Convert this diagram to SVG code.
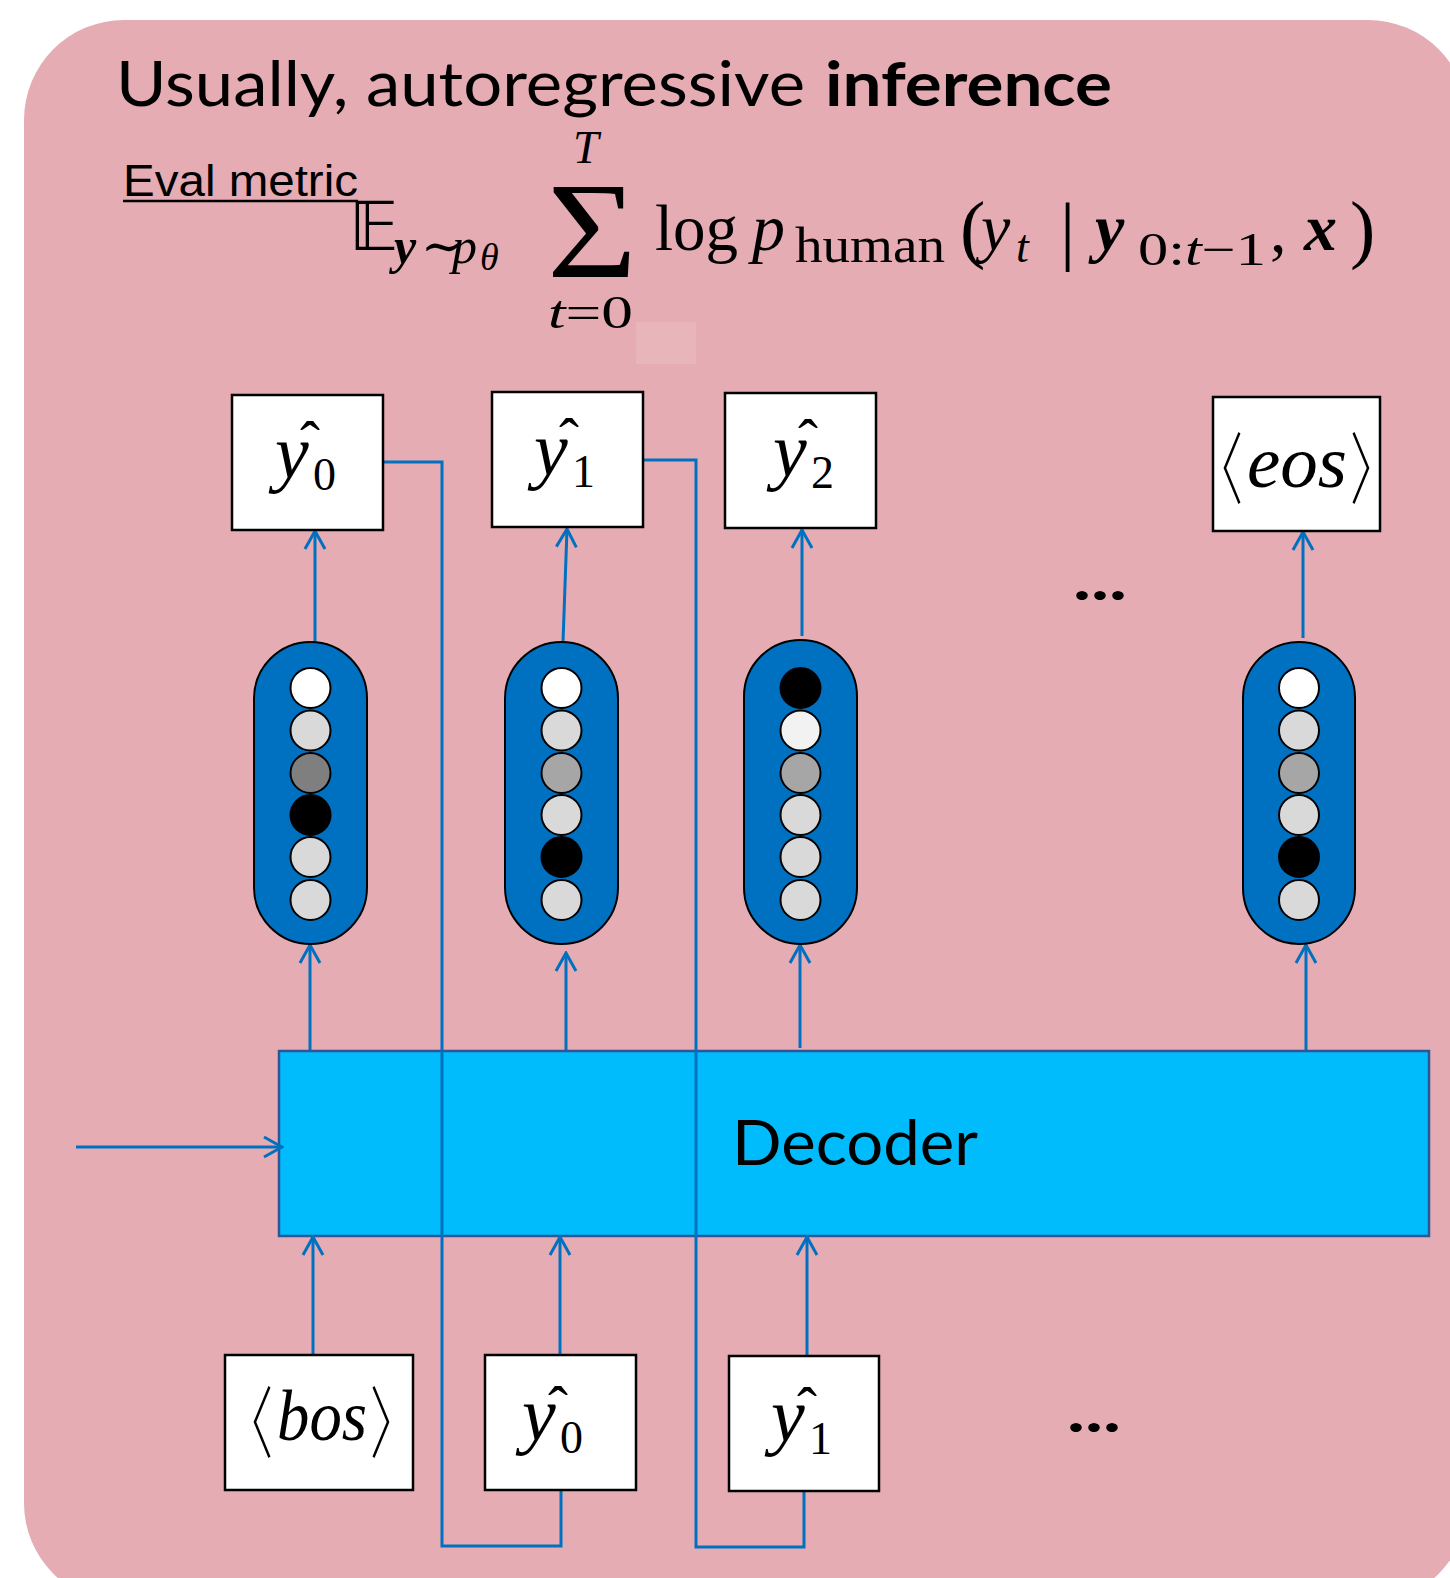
<svg xmlns="http://www.w3.org/2000/svg" width="1450" height="1578" viewBox="0 0 1450 1578">
<defs>
<marker id="arr" viewBox="0 0 22 24" refX="20" refY="12" markerWidth="22" markerHeight="24" markerUnits="userSpaceOnUse" orient="auto">
<path d="M2,2 L20,12 L2,22" fill="none" stroke="#0070C0" stroke-width="3"/>
</marker>
</defs>
<style>
.bg{fill:#E5ACB3}
.box{fill:#FFFFFF;stroke:#000000;stroke-width:2.5}
.cap{fill:#0070C0;stroke:#000000;stroke-width:2}
.dot{stroke:#000000;stroke-width:2}
.w{fill:#FFFFFF}.l{fill:#D9D9D9}.m{fill:#A6A6A6}.d{fill:#7F7F7F}.k{fill:#000000}.f{fill:#F2F2F2}
.conn{fill:none;stroke:#0070C0;stroke-width:3}
.ar{marker-end:url(#arr)}
.dec{fill:#00BCFC;stroke:#2F5597;stroke-width:2.5}
.sans{font-family:Lato,"Open Sans","Liberation Sans",sans-serif;fill:#000}
.math{font-family:"Liberation Serif","DejaVu Serif",serif;fill:#000}
.it{font-style:italic}
.bi{font-style:italic;font-weight:bold}
.br{font-family:"Noto Sans CJK JP","Noto Sans CJK SC","DejaVu Sans",sans-serif;font-weight:300;fill:#000}
</style>
<rect class="bg" x="24" y="20" width="1444" height="1583" rx="100" ry="100"/>

<g id="title">
<text class="sans" x="116" y="106" font-size="62" textLength="689" lengthAdjust="spacingAndGlyphs">Usually, autoregressive</text>
<text class="sans" x="825" y="106" font-size="62" font-weight="bold" textLength="287" lengthAdjust="spacingAndGlyphs">inference</text>
</g>

<g id="eval-metric">
<text x="123" y="196" font-family="'Liberation Sans',Arial,sans-serif" font-size="44" textLength="235" lengthAdjust="spacingAndGlyphs">Eval metric</text>
<line x1="123" y1="201" x2="358" y2="201" stroke="#000" stroke-width="2.5"/>
</g>

<g id="formula" class="math">
<text x="349" y="250" font-size="68" font-family="'DejaVu Sans','DejaVu Serif',serif">𝔼</text>
<text x="394" y="263" font-size="50" class="bi">y</text>
<text x="421" y="263" font-size="50">∼</text>
<text x="452" y="263" font-size="50" class="it">p</text>
<text x="480" y="270" font-size="38" class="it">θ</text>
<text x="547" y="277" font-size="138" textLength="90" lengthAdjust="spacingAndGlyphs">Σ</text>
<text x="573" y="163" font-size="46" class="it">T</text>
<text x="548" y="328" font-size="46" textLength="85" lengthAdjust="spacingAndGlyphs"><tspan class="it">t</tspan>=0</text>
<text x="655" y="250" font-size="66" textLength="83" lengthAdjust="spacingAndGlyphs">log</text>
<text x="752" y="250" font-size="66" class="it">p</text>
<text x="795" y="262" font-size="50" textLength="150" lengthAdjust="spacingAndGlyphs">human</text>
<text x="960" y="254" font-size="76">(</text>
<text x="981" y="250" font-size="66" class="it">y</text>
<text x="1016" y="262" font-size="46" class="it">t</text>
<text x="1060" y="256" font-size="76">|</text>
<text x="1095" y="250" font-size="66" class="bi">y</text>
<text x="1138" y="265" font-size="46" textLength="128" lengthAdjust="spacingAndGlyphs">0:<tspan class="it">t</tspan>−1</text>
<text x="1270" y="252" font-size="66">,</text>
<text x="1304" y="250" font-size="66" class="bi">x</text>
<text x="1350" y="254" font-size="76">)</text>
</g>
<rect x="636" y="322" width="60" height="42" fill="#E8B5BA"/>

<g id="connectors">
<line class="conn ar" x1="315" y1="642" x2="315" y2="531"/>
<line class="conn ar" x1="563" y1="642" x2="567" y2="529"/>
<line class="conn ar" x1="802" y1="636" x2="802" y2="530"/>
<line class="conn ar" x1="1303" y1="638" x2="1303" y2="532"/>
<line class="conn ar" x1="310" y1="1051" x2="310" y2="945"/>
<line class="conn ar" x1="566" y1="1051" x2="566" y2="953"/>
<line class="conn ar" x1="800" y1="1048" x2="800" y2="945"/>
<line class="conn ar" x1="1306" y1="1051" x2="1306" y2="945"/>
</g>

<g id="decoder">
<rect class="dec" x="279" y="1051" width="1150" height="185"/>
<text class="sans" x="732" y="1165" font-size="62" textLength="246" lengthAdjust="spacingAndGlyphs">Decoder</text>
</g>

<g id="connectors-lower">
<line class="conn ar" x1="76" y1="1147" x2="282" y2="1147"/>
<line class="conn ar" x1="313" y1="1355" x2="313" y2="1237"/>
<line class="conn ar" x1="560" y1="1355" x2="560" y2="1237"/>
<line class="conn ar" x1="807" y1="1356" x2="807" y2="1237"/>
<polyline class="conn" points="383,462 442,462 442,1546 561,1546 561,1490"/>
<polyline class="conn" points="643,460 696,460 696,1547 804,1547 804,1491"/>
</g>

<g id="out-y0">
<rect class="box" x="232" y="395" width="151" height="135"/>
<text class="math it" x="275" y="478" font-size="76">y</text>
<text class="math" x="313" y="490" font-size="46">0</text>
<text class="math" x="310" y="462" font-size="60" text-anchor="middle">ˆ</text>
</g>
<g id="out-y1">
<rect class="box" x="492" y="392" width="151" height="135"/>
<text class="math it" x="534" y="475" font-size="76">y</text>
<text class="math" x="572" y="487" font-size="46">1</text>
<text class="math" x="569" y="459" font-size="60" text-anchor="middle">ˆ</text>
</g>
<g id="out-y2">
<rect class="box" x="725" y="393" width="151" height="135"/>
<text class="math it" x="773" y="476" font-size="76">y</text>
<text class="math" x="811" y="488" font-size="46">2</text>
<text class="math" x="808" y="460" font-size="60" text-anchor="middle">ˆ</text>
</g>
<g id="out-eos">
<rect class="box" x="1213" y="397" width="167" height="134"/>
<text class="br" x="1243" y="498" font-size="78" text-anchor="end" textLength="49" lengthAdjust="spacingAndGlyphs">〈</text>
<text class="math it" x="1247" y="487" font-size="74" textLength="100" lengthAdjust="spacingAndGlyphs">eos</text>
<text class="br" x="1350" y="498" font-size="78" textLength="49" lengthAdjust="spacingAndGlyphs">〉</text>
</g>

<g id="dots-top"><text class="sans" x="1073" y="600" font-size="60" font-weight="bold" textLength="54" lengthAdjust="spacingAndGlyphs">...</text></g>
<g id="dots-bottom"><text class="sans" x="1067" y="1432" font-size="60" font-weight="bold" textLength="54" lengthAdjust="spacingAndGlyphs">...</text></g>

<g id="vec0">
<rect class="cap" x="254" y="642" width="113" height="302" rx="56.5" ry="56.5"/>
<ellipse class="dot w" cx="310.5" cy="688" rx="20" ry="20"/>
<ellipse class="dot l" cx="310.5" cy="730.5" rx="20" ry="20"/>
<ellipse class="dot d" cx="310.5" cy="773" rx="20" ry="20"/>
<ellipse class="dot k" cx="310.5" cy="815" rx="20" ry="20"/>
<ellipse class="dot l" cx="310.5" cy="857" rx="20" ry="20"/>
<ellipse class="dot l" cx="310.5" cy="900" rx="20" ry="20"/>
</g>
<g id="vec1">
<rect class="cap" x="505" y="642" width="113" height="302" rx="56.5" ry="56.5"/>
<ellipse class="dot w" cx="561.5" cy="688" rx="20" ry="20"/>
<ellipse class="dot l" cx="561.5" cy="730.5" rx="20" ry="20"/>
<ellipse class="dot m" cx="561.5" cy="773" rx="20" ry="20"/>
<ellipse class="dot l" cx="561.5" cy="815" rx="20" ry="20"/>
<ellipse class="dot k" cx="561.5" cy="857" rx="20" ry="20"/>
<ellipse class="dot l" cx="561.5" cy="900" rx="20" ry="20"/>
</g>
<g id="vec2">
<rect class="cap" x="744" y="640" width="113" height="304" rx="56.5" ry="56.5"/>
<ellipse class="dot k" cx="800.5" cy="688" rx="20" ry="20"/>
<ellipse class="dot f" cx="800.5" cy="730.5" rx="20" ry="20"/>
<ellipse class="dot m" cx="800.5" cy="773" rx="20" ry="20"/>
<ellipse class="dot l" cx="800.5" cy="815" rx="20" ry="20"/>
<ellipse class="dot l" cx="800.5" cy="857" rx="20" ry="20"/>
<ellipse class="dot l" cx="800.5" cy="900" rx="20" ry="20"/>
</g>
<g id="vec3">
<rect class="cap" x="1243" y="642" width="112" height="302" rx="56" ry="56"/>
<ellipse class="dot w" cx="1299" cy="688" rx="20" ry="20"/>
<ellipse class="dot l" cx="1299" cy="730.5" rx="20" ry="20"/>
<ellipse class="dot m" cx="1299" cy="773" rx="20" ry="20"/>
<ellipse class="dot l" cx="1299" cy="815" rx="20" ry="20"/>
<ellipse class="dot k" cx="1299" cy="857" rx="20" ry="20"/>
<ellipse class="dot l" cx="1299" cy="900" rx="20" ry="20"/>
</g>

<g id="in-bos">
<rect class="box" x="225" y="1355" width="188" height="135"/>
<text class="br" x="273" y="1452" font-size="78" text-anchor="end" textLength="49" lengthAdjust="spacingAndGlyphs">〈</text>
<text class="math it" x="277" y="1440" font-size="72" textLength="90" lengthAdjust="spacingAndGlyphs">bos</text>
<text class="br" x="370" y="1452" font-size="78" textLength="49" lengthAdjust="spacingAndGlyphs">〉</text>
</g>
<g id="in-y0">
<rect class="box" x="485" y="1355" width="151" height="135"/>
<text class="math it" x="522" y="1440" font-size="76">y</text>
<text class="math" x="560" y="1453" font-size="46">0</text>
<text class="math" x="558" y="1427" font-size="60" text-anchor="middle">ˆ</text>
</g>
<g id="in-y1">
<rect class="box" x="729" y="1356" width="150" height="135"/>
<text class="math it" x="771" y="1441" font-size="76">y</text>
<text class="math" x="809" y="1454" font-size="46">1</text>
<text class="math" x="807" y="1428" font-size="60" text-anchor="middle">ˆ</text>
</g>
</svg>
